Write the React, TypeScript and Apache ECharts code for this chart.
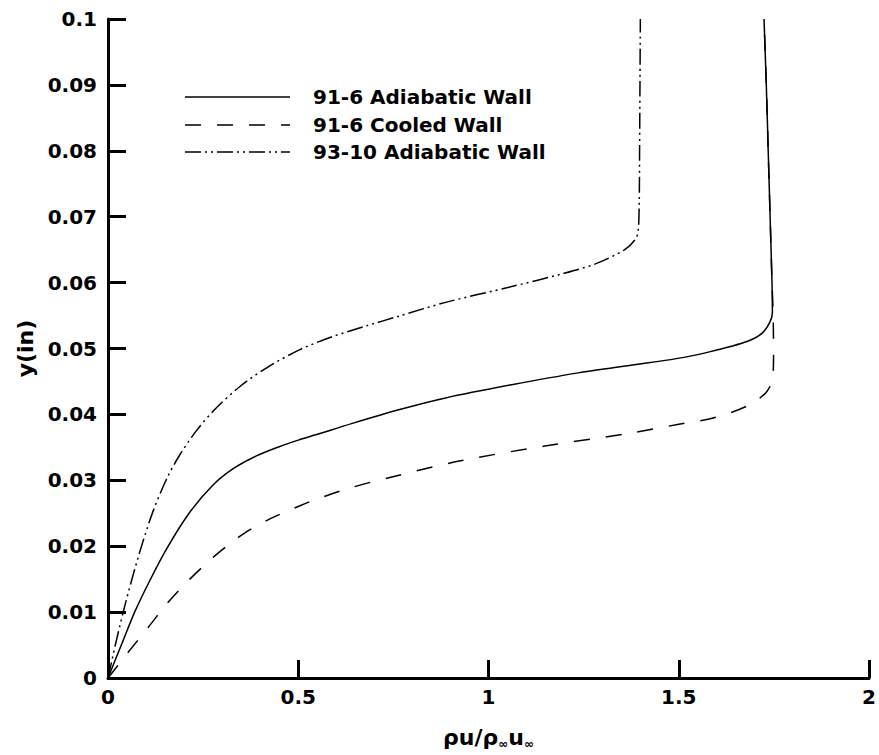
import React, { useEffect, useRef } from "react";
import * as echarts from "echarts";

const FONT = "'DejaVu Sans', 'Liberation Sans', sans-serif";

const seriesNames = ["91-6 Adiabatic Wall", "91-6 Cooled Wall", "93-10 Adiabatic Wall"];

// [rho*u/(rho_inf*u_inf), y(in)]
const adiabatic916: [number, number][] = [
  [0, 0], [0.035, 0.005], [0.07, 0.01], [0.11, 0.0148], [0.154, 0.0196], [0.213, 0.025],
  [0.276, 0.0293], [0.33, 0.0318], [0.39, 0.0337], [0.45, 0.0351], [0.5, 0.0361],
  [0.546, 0.0369], [0.64, 0.0386], [0.764, 0.0407], [0.887, 0.0425], [1.061, 0.0445],
  [1.236, 0.0463], [1.393, 0.0476], [1.497, 0.0485], [1.567, 0.0493], [1.681, 0.0511],
  [1.724, 0.0526], [1.746, 0.0554], [1.745, 0.06], [1.74, 0.07], [1.735, 0.08],
  [1.73, 0.09], [1.724, 0.1],
];

const cooled916: [number, number][] = [
  [0, 0], [0.053, 0.0039], [0.106, 0.0077], [0.158, 0.0115], [0.215, 0.015], [0.28, 0.0185],
  [0.354, 0.0218], [0.424, 0.0241], [0.503, 0.0261], [0.546, 0.0271], [0.64, 0.0289],
  [0.738, 0.0304], [0.93, 0.033], [1.148, 0.0352], [1.366, 0.0371], [1.5, 0.0385],
  [1.593, 0.0395], [1.681, 0.0413], [1.729, 0.0433], [1.746, 0.0453], [1.749, 0.0488],
  [1.748, 0.055], [1.745, 0.06], [1.74, 0.07], [1.735, 0.08], [1.73, 0.09], [1.724, 0.1],
];

const adiabatic9310: [number, number][] = [
  [0, 0], [0.02, 0.0052], [0.04, 0.01], [0.062, 0.0148], [0.088, 0.02], [0.119, 0.0254],
  [0.154, 0.0302], [0.188, 0.0338], [0.236, 0.0378], [0.285, 0.041], [0.346, 0.0442],
  [0.415, 0.047], [0.503, 0.0498], [0.59, 0.0518], [0.677, 0.0534], [0.764, 0.0549],
  [0.887, 0.057], [1.061, 0.0594], [1.192, 0.0613], [1.279, 0.0628], [1.358, 0.065],
  [1.385, 0.0665], [1.393, 0.0677], [1.396, 0.072], [1.397, 0.08], [1.398, 0.09], [1.399, 0.1],
];

const lineTypes: (string | number[])[] = ["solid", [16, 16], [16, 4, 2, 4, 2, 4]];
const seriesData = [adiabatic916, cooled916, adiabatic9310];

export default function App() {
  const ref = useRef<HTMLDivElement>(null);
  useEffect(() => {
    if (!ref.current) return;
    const chart = echarts.init(ref.current, null, { renderer: "svg" });
    const labelStyle = { color: "#000", fontFamily: FONT, fontWeight: "bold" as const, fontSize: 20 };
    const tickStyle = { show: true, inside: true, length: 18, lineStyle: { color: "#000", width: 3 } };

    const graphic: any[] = [];
    const legendRowsY = [97, 125, 152];
    seriesNames.forEach((name, i) => {
      const lt = lineTypes[i];
      graphic.push({
        type: "line",
        shape: { x1: 185, y1: legendRowsY[i], x2: 290, y2: legendRowsY[i] },
        style: { stroke: "#000", lineWidth: 1.5, lineDash: lt === "solid" ? null : lt },
      });
      graphic.push({
        type: "text",
        x: 313,
        y: legendRowsY[i],
        style: { text: name, fill: "#000", font: `bold 20px ${FONT}`, verticalAlign: "middle", align: "left" },
      });
    });

    chart.setOption({
      animation: false,
      backgroundColor: "#fff",
      grid: { left: 108, right: 7, top: 19, bottom: 76, containLabel: false },
      xAxis: {
        type: "value",
        min: 0,
        max: 2,
        interval: 0.5,
        axisLine: { show: true, onZero: false, lineStyle: { color: "#000", width: 3 } },
        axisTick: tickStyle,
        splitLine: { show: false },
        axisLabel: {
          ...labelStyle,
          margin: 9,
          formatter: (v: number) => String(parseFloat(v.toFixed(2))),
        },
        name: "{a|ρu/ρ}{s|∞}{a|u}{s|∞}",
        nameLocation: "middle",
        nameGap: 46,
        nameTextStyle: {
          color: "#000",
          rich: {
            a: { fontFamily: FONT, fontWeight: "bold", fontSize: 22, color: "#000" },
            s: { fontFamily: FONT, fontWeight: "bold", fontSize: 12, color: "#000", padding: [14, 0, 0, 0] },
          },
        },
      },
      yAxis: {
        type: "value",
        min: 0,
        max: 0.1,
        interval: 0.01,
        axisLine: { show: true, onZero: false, lineStyle: { color: "#000", width: 3 } },
        axisTick: tickStyle,
        splitLine: { show: false },
        axisLabel: {
          ...labelStyle,
          margin: 11,
          formatter: (v: number) => String(parseFloat(v.toFixed(3))),
        },
        name: "y(in)",
        nameLocation: "middle",
        nameGap: 66,
        nameTextStyle: { color: "#000", fontFamily: FONT, fontWeight: "bold", fontSize: 22 },
      },
      series: seriesData.map((d, i) => ({
        name: seriesNames[i],
        type: "line",
        data: d,
        showSymbol: false,
        symbol: "none",
        smooth: 0.3,
        lineStyle: { color: "#000", width: 1.5, type: lineTypes[i] },
      })),
      graphic,
    });
    return () => chart.dispose();
  }, []);
  return <div ref={ref} style={{ position: "fixed", left: 0, top: 0, width: 879, height: 755 }} />;
}
